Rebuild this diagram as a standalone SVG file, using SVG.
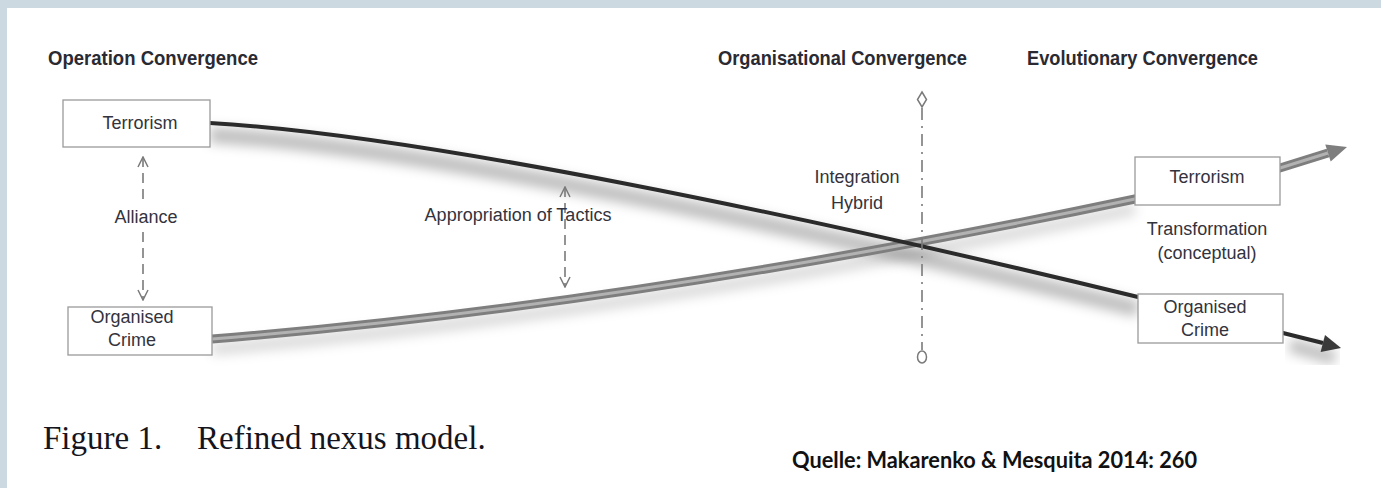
<svg xmlns="http://www.w3.org/2000/svg" width="1381" height="488" viewBox="0 0 1381 488">
  <style>
    .hdr { font-family: "Liberation Sans", Arial, sans-serif; font-weight: bold; font-size: 20.5px; fill: #2a2a33; }
    .lbl { font-family: "Liberation Sans", Arial, sans-serif; font-size: 18px; fill: #33333d; text-anchor: middle; }
    .box { fill: #ffffff; stroke: #9a9a9a; stroke-width: 1.3; }
    .dash { fill: none; stroke: #7a7a7a; stroke-width: 1.6; stroke-dasharray: 10 6; }
    .cap { font-family: "Liberation Serif", "Times New Roman", serif; font-size: 33px; fill: #151520; }
    .src { font-family: Lato, "Open Sans", sans-serif; font-weight: bold; font-size: 23px; fill: #111; }
  </style>
  <defs>
    <filter id="soft" x="-10%" y="-50%" width="120%" height="200%">
      <feGaussianBlur stdDeviation="6"/>
    </filter>
    <marker id="open" viewBox="0 0 12 12" refX="11" refY="6" markerWidth="12" markerHeight="12" markerUnits="userSpaceOnUse" orient="auto-start-reverse">
      <path d="M1,1 L11,6 L1,11" fill="none" stroke="#7a7a7a" stroke-width="1.5"/>
    </marker>
  </defs>

  <rect x="0" y="0" width="1381" height="488" fill="#cdd9e0"/>
  <rect x="7" y="8" width="1374" height="480" fill="#ffffff"/>

  <!-- headers -->
  <text class="hdr" x="48" y="65" textLength="210" lengthAdjust="spacingAndGlyphs">Operation Convergence</text>
  <text class="hdr" x="718" y="65" textLength="249" lengthAdjust="spacingAndGlyphs">Organisational Convergence</text>
  <text class="hdr" x="1027" y="65" textLength="231" lengthAdjust="spacingAndGlyphs">Evolutionary Convergence</text>

  <!-- connectors -->
  <g id="connectors">
    <!-- soft shadows -->
    <path d="M210,135 C420,147 800,227 1138,309" fill="none" stroke="#000" stroke-opacity="0.25" stroke-width="16" filter="url(#soft)"/>
    <path d="M212,349 C450,330 750,290 1135,209" fill="none" stroke="#000" stroke-opacity="0.15" stroke-width="12" filter="url(#soft)"/>
    <path d="M1290,345 L1335,358" fill="none" stroke="#000" stroke-opacity="0.25" stroke-width="14" filter="url(#soft)"/>

    <!-- gray curve: Organised Crime -> Terrorism -->
    <path id="gray-curve" d="M212,339 C450,320 750,280 1135,199 L1280,168 L1328,153" fill="none" stroke="#7e7e7e" stroke-width="9"/>
    <path d="M212,339 C450,320 750,280 1135,199 L1280,168 L1328,153" fill="none" stroke="#b2b2b2" stroke-width="3"/>
    <polygon points="1347,147 1330.7,161.6 1325.3,144.4" fill="#7e7e7e"/>

    <!-- dark curve: Terrorism -> Organised Crime -->
    <path id="dark-curve" d="M210,123 C420,135 800,215 1138,297 L1283,333 L1323,343" fill="none" stroke="#2b2b2b" stroke-width="4"/>
    <polygon points="1341,348 1320.6,352.1 1325,335" fill="#3a3a3a"/>

    <!-- Alliance -->
    <line class="dash" x1="143" y1="157" x2="143" y2="205" marker-start="url(#open)"/>
    <line class="dash" x1="143" y1="232" x2="143" y2="300" marker-end="url(#open)"/>
    <!-- Appropriation of tactics -->
    <line class="dash" x1="565" y1="187" x2="565" y2="287" marker-start="url(#open)" marker-end="url(#open)"/>

    <!-- organisational convergence axis -->
    <line x1="922" y1="108" x2="922" y2="350" stroke="#7a7a7a" stroke-width="1.6" stroke-dasharray="12 6 2 6"/>
    <path d="M922,92 L926.5,99.5 L922,107 L917.5,99.5 Z" fill="#fff" stroke="#7a7a7a" stroke-width="1.5"/>
    <ellipse cx="922" cy="357" rx="4.5" ry="6" fill="#fff" stroke="#7a7a7a" stroke-width="1.5"/>
  </g>

  <!-- nodes -->
  <g id="node-terrorism-left">
    <rect class="box" x="63" y="100" width="147" height="47"/>
    <text class="lbl" x="140" y="129">Terrorism</text>
  </g>
  <g id="node-organised-crime-left">
    <rect class="box" x="68" y="307" width="144" height="48"/>
    <text class="lbl" x="132" y="323">Organised</text>
    <text class="lbl" x="132" y="346">Crime</text>
  </g>
  <g id="node-terrorism-right">
    <rect class="box" x="1135" y="157" width="145" height="48"/>
    <text class="lbl" x="1207" y="183">Terrorism</text>
  </g>
  <g id="node-organised-crime-right">
    <rect class="box" x="1138" y="294" width="145" height="49"/>
    <text class="lbl" x="1205" y="313">Organised</text>
    <text class="lbl" x="1205" y="336">Crime</text>
  </g>

  <!-- labels -->
  <g id="label-alliance">
    <text class="lbl" x="146" y="223">Alliance</text>
  </g>
  <g id="label-appropriation">
    <text class="lbl" x="518" y="221">Appropriation of Tactics</text>
  </g>
  <g id="label-integration">
    <text class="lbl" x="857" y="183">Integration</text>
    <text class="lbl" x="857" y="209">Hybrid</text>
  </g>
  <g id="label-transformation">
    <text class="lbl" x="1207" y="235">Transformation</text>
    <text class="lbl" x="1207" y="259">(conceptual)</text>
  </g>

  <!-- caption -->
  <text class="cap" x="43" y="449">Figure 1.</text>
  <text class="cap" x="197" y="449">Refined nexus model.</text>
  <text class="src" x="792" y="468" textLength="405" lengthAdjust="spacingAndGlyphs">Quelle: Makarenko &amp; Mesquita 2014: 260</text>
</svg>
